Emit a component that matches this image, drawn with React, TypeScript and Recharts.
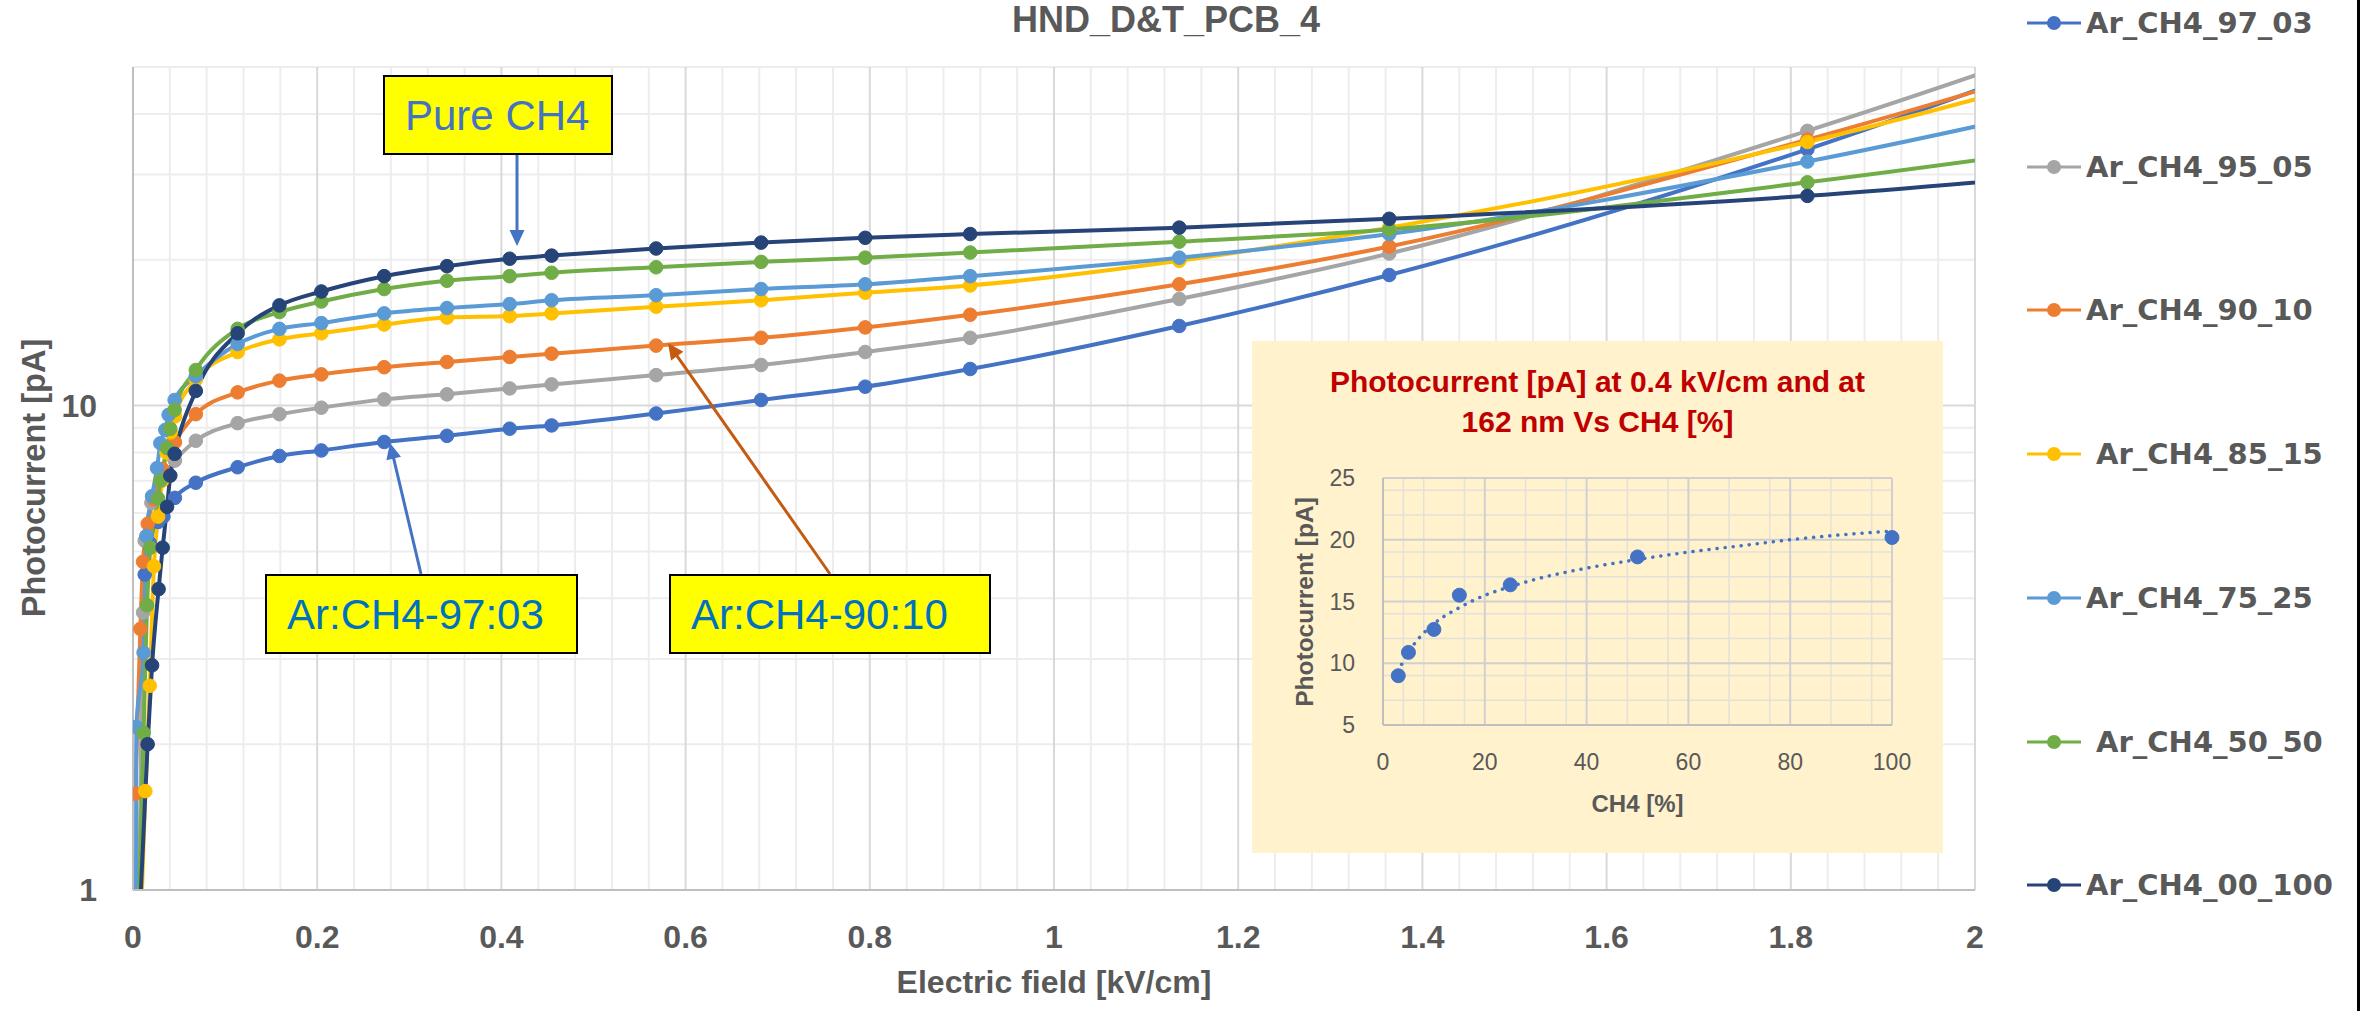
import React from 'react';
import { LineChart, Line, XAxis, YAxis, CartesianGrid } from 'recharts';

type Pt = [number, number];

// Electric field [kV/cm] , Photocurrent [pA]
const ar97_03: Pt[] = [
  [0.0068, 0.7], [0.0127, 4.48], [0.0182, 5.2], [0.0273, 5.75], [0.033, 5.9], [0.0455, 6.45],
  [0.0682, 6.93], [0.1136, 7.46], [0.159, 7.87], [0.2045, 8.08], [0.2727, 8.41], [0.3409, 8.66],
  [0.409, 8.96], [0.4545, 9.1], [0.568, 9.63], [0.682, 10.27], [0.795, 10.94], [0.909, 11.9],
  [1.136, 14.6], [1.364, 18.6], [1.818, 33.8], [2.273, 70],
];
const ar95_05: Pt[] = [
  [0.006, 0.8], [0.011, 3.74], [0.0127, 5.26], [0.02, 6.3], [0.0318, 7.1], [0.0455, 7.7],
  [0.0682, 8.46], [0.1136, 9.2], [0.159, 9.6], [0.2045, 9.9], [0.2727, 10.3], [0.3409, 10.55],
  [0.409, 10.85], [0.4545, 11.06], [0.568, 11.56], [0.682, 12.13], [0.795, 12.9], [0.909, 13.8],
  [1.136, 16.6], [1.364, 20.6], [1.818, 36.9], [2.273, 73],
];
const ar90_10: Pt[] = [
  [0.0025, 1.58], [0.008, 3.46], [0.0109, 4.76], [0.016, 5.7], [0.0227, 6.4], [0.0318, 7.4],
  [0.0455, 8.4], [0.0682, 9.6], [0.1136, 10.65], [0.159, 11.26], [0.2045, 11.6], [0.2727, 12.0],
  [0.3409, 12.3], [0.409, 12.6], [0.4545, 12.8], [0.568, 13.3], [0.682, 13.8], [0.795, 14.5],
  [0.909, 15.4], [1.136, 17.8], [1.364, 21.3], [1.818, 35.4], [2.273, 64],
];
const ar85_15: Pt[] = [
  [0.007, 0.7], [0.0134, 1.6], [0.0182, 2.64], [0.0227, 4.66], [0.0273, 5.9], [0.0318, 7.0],
  [0.0364, 8.0], [0.0409, 8.8], [0.0455, 9.5], [0.0682, 11.3], [0.1136, 12.9], [0.159, 13.7],
  [0.2045, 14.1], [0.2727, 14.7], [0.3409, 15.2], [0.409, 15.3], [0.4545, 15.5], [0.568, 16.0],
  [0.682, 16.5], [0.795, 17.1], [0.909, 17.7], [1.136, 19.9], [1.364, 23.3], [1.818, 35.0], [2.273, 60],
];
const ar75_25: Pt[] = [
  [0.003, 0.6], [0.0036, 2.17], [0.0115, 3.09], [0.0145, 5.38], [0.0207, 6.5], [0.0261, 7.43],
  [0.0297, 8.36], [0.0351, 8.91], [0.0387, 9.57], [0.0452, 10.27], [0.0682, 11.5], [0.1136, 13.4],
  [0.159, 14.4], [0.2045, 14.8], [0.2727, 15.5], [0.3409, 15.9], [0.409, 16.2], [0.4545, 16.5],
  [0.568, 16.9], [0.682, 17.4], [0.795, 17.8], [0.909, 18.5], [1.136, 20.2], [1.364, 22.6],
  [1.818, 31.9], [2.273, 49.4],
];
const ar50_50: Pt[] = [
  [0.004, 0.6], [0.0115, 2.11], [0.0152, 3.87], [0.0188, 5.09], [0.0272, 6.43], [0.0297, 7.0],
  [0.037, 8.17], [0.0405, 8.96], [0.0452, 9.8], [0.0682, 11.84], [0.1136, 14.4], [0.159, 15.6],
  [0.2045, 16.4], [0.2727, 17.4], [0.3409, 18.1], [0.409, 18.5], [0.4545, 18.8], [0.568, 19.3],
  [0.682, 19.8], [0.795, 20.2], [0.909, 20.7], [1.136, 21.8], [1.364, 23.1], [1.818, 28.9], [2.273, 37.8],
];
const ar00_100: Pt[] = [
  [0.0045, 0.68], [0.0159, 2.0], [0.0207, 2.91], [0.0278, 4.18], [0.0322, 5.09], [0.037, 6.18],
  [0.0405, 7.17], [0.0452, 7.95], [0.0682, 10.72], [0.1136, 14.1], [0.159, 16.1], [0.2045, 17.2],
  [0.2727, 18.5], [0.3409, 19.4], [0.409, 20.1], [0.4545, 20.4], [0.568, 21.1], [0.682, 21.7],
  [0.795, 22.2], [0.909, 22.6], [1.136, 23.3], [1.364, 24.3], [1.818, 27.1], [2.273, 32.2],
];

const seriesNames = ['Ar_CH4_97_03', 'Ar_CH4_95_05', 'Ar_CH4_90_10', ' Ar_CH4_85_15', 'Ar_CH4_75_25', ' Ar_CH4_50_50', 'Ar_CH4_00_100'];
const seriesColors = ['#4472C4', '#A5A5A5', '#ED7D31', '#FFC000', '#5B9BD5', '#70AD47', '#264478'];
const seriesData = [ar97_03, ar95_05, ar90_10, ar85_15, ar75_25, ar50_50, ar00_100];

const xTicks = [0, 0.2, 0.4, 0.6, 0.8, 1, 1.2, 1.4, 1.6, 1.8, 2];
const yTicks = [1, 10];

// inset: photocurrent at 0.4 kV/cm vs CH4 [%]
const insetCH4 = [3, 5, 10, 15, 25, 50, 100];
const insetCurrent = [8.99, 10.88, 12.74, 15.51, 16.35, 18.61, 20.18];
// dotted trend curve
const trendCH4 = [3, 4, 5, 7, 10, 15, 20, 25, 30, 40, 50, 60, 70, 80, 90, 100];
const trendCurrent = [9.3, 10.2, 10.9, 12.0, 13.2, 14.5, 15.5, 16.2, 16.8, 17.7, 18.4, 19.0, 19.5, 20.0, 20.4, 20.7];
const insetXTicks = [0, 20, 40, 60, 80, 100];
const insetYTicks = [5, 10, 15, 20, 25];

const W = 2361;
const H = 1011;
const FONT = '"Liberation Sans", Arial, sans-serif';
const GRAY = '#595959';

const range = (a: number, b: number, step: number, skip: number) => {
  const out: number[] = [];
  const n = Math.round((b - a) / step);
  for (let i = 0; i <= n; i++) {
    if (skip && i % skip === 0) continue;
    out.push(+(a + i * step).toFixed(4));
  }
  return out;
};

const minorX = range(0, 2, 0.04, 5);
const majorX = xTicks;
const minorY = [2, 3, 4, 5, 6, 7, 8, 9, 20, 30, 40, 50];
const majorY = [1, 10];

const insetMinorX = range(0, 100, 4, 5);
const insetMinorY = range(5, 25, 1, 5);

function arrowHead(x1: number, y1: number, x2: number, y2: number, len: number, half: number) {
  const dx = x2 - x1;
  const dy = y2 - y1;
  const d = Math.sqrt(dx * dx + dy * dy);
  const ux = dx / d;
  const uy = dy / d;
  const bx = x2 - ux * len;
  const by = y2 - uy * len;
  return `${x2},${y2} ${bx - uy * half},${by + ux * half} ${bx + uy * half},${by - ux * half}`;
}

function Arrow({ x1, y1, x2, y2, color }: { x1: number; y1: number; x2: number; y2: number; color: string }) {
  const dx = x2 - x1;
  const dy = y2 - y1;
  const d = Math.sqrt(dx * dx + dy * dy);
  const ex = x2 - (dx / d) * 12;
  const ey = y2 - (dy / d) * 12;
  return (
    <g>
      <line x1={x1} y1={y1} x2={ex} y2={ey} stroke={color} strokeWidth={3} />
      <polygon points={arrowHead(x1, y1, x2, y2, 16, 7.5)} fill={color} />
    </g>
  );
}

function Callout({ x, y, w, h, text, color, size }: { x: number; y: number; w: number; h: number; text: string; color: string; size: number }) {
  return (
    <g>
      <rect x={x} y={y} width={w} height={h} fill="#FFFF00" stroke="#000" strokeWidth={2} />
      <text x={x + 21} y={y + 54} fontFamily={FONT} fontSize={size} fill={color}>{text}</text>
    </g>
  );
}

export default function App() {
  const mainData = seriesData.map((pts) => pts.map(([x, y]) => ({ x, y })));
  const insetPoints = insetCH4.map((x, i) => ({ x, y: insetCurrent[i] }));
  const trendPoints = trendCH4.map((x, i) => ({ x, y: trendCurrent[i] }));
  const tickStyle = { fill: GRAY, fontSize: 32, fontWeight: 'bold', fontFamily: FONT };
  const insetTick = { fill: GRAY, fontSize: 23, fontFamily: FONT };

  return (
    <div style={{ position: 'absolute', left: 0, top: 0, width: W, height: H, background: '#fff', overflow: 'hidden' }}>
      <LineChart width={W} height={H} margin={{ top: 67, right: 386, bottom: 0, left: 0 }}>
        <CartesianGrid horizontalValues={minorY} verticalValues={minorX} stroke="#EDEDED" strokeWidth={2} />
        <CartesianGrid horizontalValues={majorY} verticalValues={majorX} stroke="#D9D9D9" strokeWidth={2} />
        <XAxis
          type="number"
          dataKey="x"
          domain={[0, 2]}
          ticks={xTicks}
          allowDataOverflow
          height={121}
          tickLine={false}
          tickSize={0}
          tickMargin={35}
          axisLine={{ stroke: '#BFBFBF', strokeWidth: 2 }}
          tick={tickStyle}
          label={{ value: 'Electric field [kV/cm]', position: 'insideBottom', offset: 18, fill: GRAY, fontSize: 32, fontWeight: 'bold', fontFamily: FONT }}
        />
        <YAxis
          type="number"
          scale="log"
          domain={[1, 50]}
          ticks={yTicks}
          allowDataOverflow
          width={133}
          tickLine={false}
          tickSize={0}
          tickMargin={36}
          axisLine={{ stroke: '#BFBFBF', strokeWidth: 2 }}
          tick={tickStyle}
        />
        {mainData.map((d, i) => (
          <Line
            key={seriesNames[i]}
            data={d}
            dataKey="y"
            name={seriesNames[i]}
            type="monotone"
            stroke={seriesColors[i]}
            strokeWidth={4}
            dot={{ r: 6.8, fill: seriesColors[i], stroke: seriesColors[i], strokeWidth: 1 }}
            activeDot={false}
            isAnimationActive={false}
          />
        ))}
      </LineChart>

      {/* legend */}
      <div style={{ position: 'absolute', left: 2026, top: 0 }}>
        {seriesNames.map((name, i) => (
          <div
            key={name}
            style={{ position: 'absolute', left: 0, top: 23 + i * 143.7 - 20, height: 40, display: 'flex', alignItems: 'center', whiteSpace: 'pre' }}
          >
            <svg width={56} height={40}>
              <line x1={1} y1={20} x2={55} y2={20} stroke={seriesColors[i]} strokeWidth={3} />
              <circle cx={28} cy={20} r={7} fill={seriesColors[i]} />
            </svg>
            <span style={{ marginLeft: 4, fontFamily: '"DejaVu Sans", sans-serif', fontWeight: 'bold', fontSize: 29, lineHeight: '40px', color: GRAY }}>
              {name}
            </span>
          </div>
        ))}
      </div>

      {/* inset chart */}
      <div style={{ position: 'absolute', left: 1252, top: 341, width: 691, height: 512, background: '#FFF2CC' }}>
        <LineChart width={691} height={512} margin={{ top: 137, right: 51, bottom: 0, left: 0 }}>
          <CartesianGrid horizontalValues={insetMinorY} verticalValues={insetMinorX} stroke="#E4E1D8" strokeWidth={1.5} />
          <CartesianGrid horizontalValues={insetYTicks} verticalValues={insetXTicks} stroke="#D0D0D0" strokeWidth={2} />
          <XAxis
            type="number"
            dataKey="x"
            domain={[0, 100]}
            ticks={insetXTicks}
            height={128}
            tickLine={false}
            tickSize={0}
            tickMargin={29}
            axisLine={{ stroke: '#BFBFBF', strokeWidth: 2 }}
            tick={insetTick}
            label={{ value: 'CH4 [%]', position: 'insideBottom', offset: 41, fill: GRAY, fontSize: 24, fontWeight: 'bold', fontFamily: FONT }}
          />
          <YAxis
            type="number"
            domain={[5, 25]}
            ticks={insetYTicks}
            width={131}
            tickLine={false}
            tickSize={0}
            tickMargin={28}
            axisLine={{ stroke: '#BFBFBF', strokeWidth: 2 }}
            tick={insetTick}
          />
          <Line
            data={trendPoints}
            dataKey="y"
            type="monotone"
            stroke="#4472C4"
            strokeWidth={3.5}
            strokeDasharray="0.1 8"
            strokeLinecap="round"
            dot={false}
            activeDot={false}
            isAnimationActive={false}
          />
          <Line
            data={insetPoints}
            dataKey="y"
            stroke="none"
            dot={{ r: 7, fill: '#4472C4', stroke: '#4472C4' }}
            activeDot={false}
            isAnimationActive={false}
          />
        </LineChart>
      </div>

      {/* annotations and titles */}
      <svg width={W} height={H} style={{ position: 'absolute', left: 0, top: 0, pointerEvents: 'none' }}>
        <text x={1166} y={32} textAnchor="middle" fontFamily={FONT} fontWeight="bold" fontSize={36} fill={GRAY}>
          {'HND_D&T_PCB_4'}
        </text>
        <text transform="translate(45,478) rotate(-90)" textAnchor="middle" fontFamily={FONT} fontWeight="bold" fontSize={32.6} fill={GRAY}>
          Photocurrent [pA]
        </text>

        <Callout x={384} y={76} w={228} h={78} text="Pure CH4" color="#4472C4" size={42} />
        <Arrow x1={517} y1={155} x2={517} y2={246} color="#4472C4" />

        <Callout x={266} y={575} w={311} h={78} text="Ar:CH4-97:03" color="#0070C0" size={42} />
        <Arrow x1={421} y1={574} x2={390} y2={443} color="#4472C4" />

        <Callout x={670} y={575} w={320} h={78} text="Ar:CH4-90:10" color="#0070C0" size={42} />
        <Arrow x1={830} y1={574} x2={668} y2={343} color="#C55A11" />

        <text x={1597.5} y={392} textAnchor="middle" fontFamily={FONT} fontWeight="bold" fontSize={30} fill="#C00000">
          Photocurrent [pA] at 0.4 kV/cm and at
        </text>
        <text x={1597.5} y={432} textAnchor="middle" fontFamily={FONT} fontWeight="bold" fontSize={30} fill="#C00000">
          162 nm Vs CH4 [%]
        </text>
        <text transform="translate(1313,602) rotate(-90)" textAnchor="middle" fontFamily={FONT} fontWeight="bold" fontSize={24.5} fill={GRAY}>
          Photocurrent [pA]
        </text>

        <line x1={2358.5} y1={0} x2={2358.5} y2={H} stroke="#000" strokeWidth={3} />
      </svg>
    </div>
  );
}
